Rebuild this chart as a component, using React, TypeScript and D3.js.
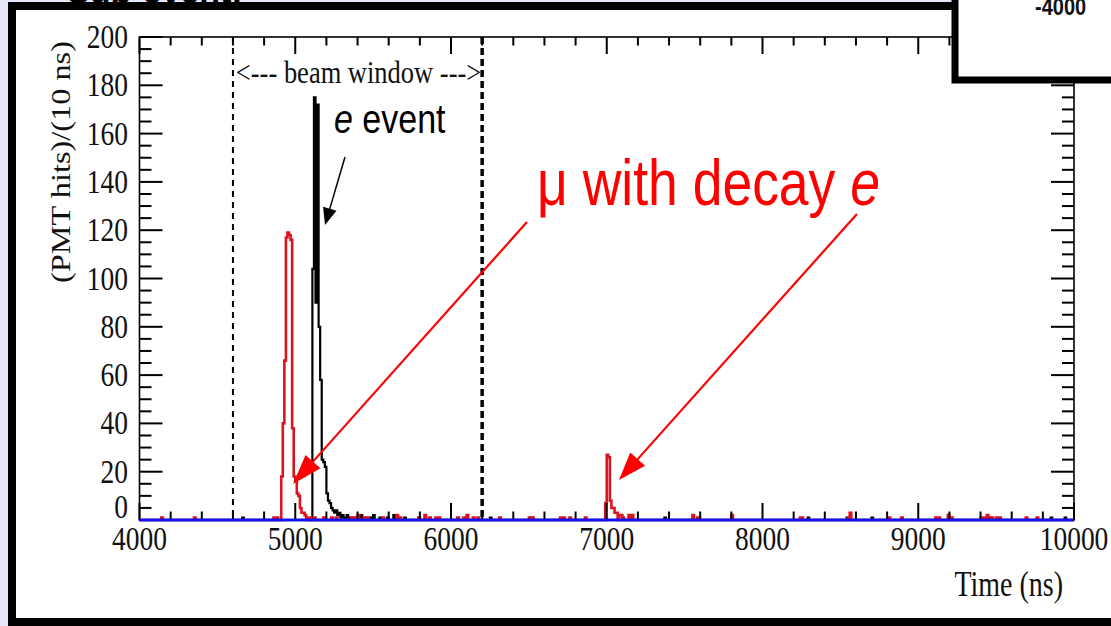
import React from 'react';
import * as d3 from 'd3';

const W = 1111;
const H = 626;
const BIN = 10;
const T_MIN = 4000;
const T_MAX = 10000;

// non-zero bins [bin start (ns), PMT hits]
const blackBins: [number, number][] = [
  [4660, 1],
  [5110, 104], [5120, 175], [5130, 90], [5140, 172], [5150, 80], [5160, 58],
  [5170, 25], [5180, 24], [5190, 22], [5200, 11], [5210, 8], [5220, 7],
  [5230, 5], [5240, 4], [5250, 3], [5260, 4], [5270, 2], [5280, 3], [5290, 1],
  [5300, 2], [5310, 1], [5330, 2], [5340, 1], [5360, 1], [5390, 1], [5420, 2],
  [5450, 1], [5480, 1], [5500, 2], [5540, 1], [5590, 1], [5630, 2], [5700, 1],
  [6250, 1], [6510, 1], [7370, 1], [8290, 1], [8540, 1], [8700, 1], [9450, 1],
  [9850, 1], [9940, 1],
];

const redBins: [number, number][] = [
  [4140, 1], [4350, 1], [4860, 1], [4880, 1],
  [4910, 18], [4920, 40], [4930, 66], [4940, 117], [4950, 119], [4960, 118],
  [4970, 116], [4980, 38], [4990, 18], [5000, 16], [5010, 11], [5020, 10],
  [5030, 5], [5040, 3], [5050, 3], [5060, 2], [5070, 1], [5090, 1], [5120, 1],
  [5180, 1], [5230, 1], [5260, 1],
  [5360, 1], [5380, 1], [5400, 2], [5440, 1], [5460, 1], [5560, 1], [5650, 2],
  [5670, 1], [5790, 1], [5830, 2], [5860, 1], [5900, 1], [5920, 1], [6040, 1],
  [6080, 1], [6100, 2], [6140, 1], [6170, 1], [6310, 1], [6500, 1], [6520, 1],
  [6700, 1], [6720, 1], [6760, 1], [6860, 1],
  [6990, 7], [7000, 27], [7010, 26], [7020, 8], [7030, 5], [7040, 5], [7050, 3],
  [7060, 3], [7080, 2], [7090, 2], [7100, 1], [7140, 2], [7160, 2],
  [7550, 2], [7580, 1], [7800, 2], [8240, 1], [8250, 1], [8550, 1], [8560, 3],
  [8810, 1], [8890, 1], [9110, 1], [9130, 1], [9190, 2], [9210, 1], [9400, 1],
  [9420, 1], [9440, 2], [9470, 1], [9500, 1], [9520, 1], [9690, 1], [9760, 1],
];

const xTickValues = [4000, 5000, 6000, 7000, 8000, 9000, 10000];
const xTickLabels = ['4000', '5000', '6000', '7000', '8000', '9000', '10000'];
const yTickValues = [0, 20, 40, 60, 80, 100, 120, 140, 160, 180, 200];
const yTickLabels = ['0', '20', '40', '60', '80', '100', '120', '140', '160', '180', '200'];
const beamWindow = [4600, 6200];

const xScale = d3.scaleLinear().domain([T_MIN, T_MAX]).range([139.5, 1074]);
const yScale = d3.scaleLinear().domain([0, 200]).range([520, 37]);

function series(bins: [number, number][]): [number, number][] {
  const m = new Map(bins);
  const pts: [number, number][] = [];
  for (let t = T_MIN; t < T_MAX; t += BIN) pts.push([t, m.get(t) ?? 0]);
  pts.push([T_MAX, 0]);
  return pts;
}

const stepLine = d3
  .line<[number, number]>()
  .x((d) => xScale(d[0]))
  .y((d) => yScale(d[1]))
  .curve(d3.curveStepAfter);

const SERIF = '"Liberation Serif", "Times New Roman", serif';
const SANS = '"Liberation Sans", Arial, sans-serif';
const SY = 1.22;

function Arrow({ x1, y1, x2, y2, color, w, len, half }: any) {
  const dx = x2 - x1;
  const dy = y2 - y1;
  const L = Math.hypot(dx, dy);
  const ux = dx / L;
  const uy = dy / L;
  const bx = x2 - ux * len;
  const by = y2 - uy * len;
  const px = -uy;
  const py = ux;
  return (
    <g>
      <line x1={x1} y1={y1} x2={bx + ux * 2} y2={by + uy * 2} stroke={color} strokeWidth={w} />
      <polygon
        points={`${x2},${y2} ${bx + px * half},${by + py * half} ${bx - px * half},${by - py * half}`}
        fill={color}
      />
    </g>
  );
}

export default function App() {
  const [x0, x1] = xScale.range();
  const [yb, yt] = yScale.range();
  const minorX = d3.range(T_MIN, T_MAX + 1, 200);
  const minorY = d3.range(0, 201, 5);

  return (
    <svg width={W} height={H} style={{ position: 'absolute', left: 0, top: 0 }}>
      <rect x={0} y={0} width={W} height={H} fill="#e6e6fa" />
      <rect x={12} y={6} width={1130} height={616} fill="#fff" stroke="#000" strokeWidth={8} />
      <text x={67} y={3} fontFamily={SANS} fontWeight="bold" fontSize={34} fill="#000">
        Sub-event:
      </text>

      {/* histograms */}
      <path d={stepLine(series(blackBins)) || ''} fill="none" stroke="#000" strokeWidth={2.2} />
      <path d={stepLine(series(redBins)) || ''} fill="none" stroke="#dc1420" strokeWidth={2.6} />

      {/* frame */}
      <rect x={x0} y={yt} width={x1 - x0} height={yb - yt} fill="none" stroke="#000" strokeWidth={1.6} />

      {/* x ticks */}
      {minorX.map((t) => {
        const major = t % 1000 === 0;
        const l = major ? 17 : 8.5;
        const x = xScale(t);
        return (
          <g key={'xt' + t}>
            <line x1={x} x2={x} y1={yb} y2={yb - l} stroke="#000" strokeWidth={2} />
            <line x1={x} x2={x} y1={yt} y2={yt + l} stroke="#000" strokeWidth={2} />
          </g>
        );
      })}
      {/* y ticks */}
      {minorY.map((v) => {
        const major = v % 20 === 0;
        const l = major ? 23 : 12;
        const y = yScale(v);
        return (
          <g key={'yt' + v}>
            <line x1={x0} x2={x0 + l} y1={y} y2={y} stroke="#000" strokeWidth={2} />
            <line x1={x1} x2={x1 - l} y1={y} y2={y} stroke="#000" strokeWidth={2} />
          </g>
        );
      })}

      {/* beam window */}
      <line
        x1={xScale(beamWindow[0])}
        x2={xScale(beamWindow[0])}
        y1={yt}
        y2={yb}
        stroke="#000"
        strokeWidth={2}
        strokeDasharray="6,5"
      />
      <line
        x1={xScale(beamWindow[1])}
        x2={xScale(beamWindow[1])}
        y1={yt}
        y2={yb}
        stroke="#000"
        strokeWidth={3.5}
        strokeDasharray="7,4"
      />
      <g transform={`translate(${(xScale(beamWindow[0]) + xScale(beamWindow[1])) / 2 + 1},83) scale(1,${SY})`}>
        <text x={0} y={0} textAnchor="middle" fontFamily={SERIF} fontSize={26.5} fill="#111">
          {'<--- beam window --->'}
        </text>
      </g>

      {/* zero (blue) histogram */}
      <line x1={x0} x2={x1} y1={yb} y2={yb} stroke="#1212ee" strokeWidth={3} />

      {/* tick labels */}
      {xTickValues.map((t, i) => (
        <g key={'xl' + t} transform={`translate(${xScale(t)},550) scale(1,${SY})`}>
          <text x={0} y={0} textAnchor="middle" fontFamily={SERIF} fontSize={27.5} fill="#111">
            {xTickLabels[i]}
          </text>
        </g>
      ))}
      {yTickValues.map((v, i) => (
        <g key={'yl' + v} transform={`translate(128,${v === 0 ? yScale(v) - 2 : yScale(v) + 11}) scale(1,${SY})`}>
          <text x={0} y={0} textAnchor="end" fontFamily={SERIF} fontSize={27.5} fill="#111">
            {yTickLabels[i]}
          </text>
        </g>
      ))}

      {/* axis titles */}
      <g transform={`translate(1063,596) scale(1,1.28)`}>
        <text x={0} y={0} textAnchor="end" fontFamily={SERIF} fontSize={28} fill="#111">
          Time (ns)
        </text>
      </g>
      <g transform={`translate(70,162) scale(1,${SY}) rotate(-90)`}>
        <text x={0} y={0} textAnchor="middle" fontFamily={SERIF} fontSize={26.5} fill="#111">
          (PMT hits)/(10 ns)
        </text>
      </g>

      {/* annotations */}
      <g transform={`translate(334,133) scale(1,${SY})`}>
        <text x={0} y={0} fontFamily={SANS} fontSize={34} fill="#000">
          <tspan fontStyle="italic">e</tspan> event
        </text>
      </g>
      <Arrow x1={345} y1={157} x2={325} y2={225} color="#000" w={1.5} len={17} half={7} />

      <g transform={`translate(537,205) scale(1,${SY})`}>
        <text x={0} y={0} fontFamily={SANS} fontSize={53.5} fill="#ff0000">
          μ with decay <tspan fontStyle="italic">e</tspan>
        </text>
      </g>
      <Arrow x1={527} y1={222} x2={293} y2={484} color="#ff0000" w={2.2} len={30} half={10} />
      <Arrow x1={857} y1={214} x2={619} y2={480} color="#ff0000" w={2.2} len={28} half={10} />

      {/* inset box at top right */}
      <rect x={955} y={-20} width={300} height={100} fill="#fff" stroke="#000" strokeWidth={7} />
      <g transform={`translate(1035,15) scale(1,${SY})`}>
        <text x={0} y={0} fontFamily={SANS} fontWeight="bold" fontSize={20} fill="#111">
          -4000
        </text>
      </g>
    </svg>
  );
}
